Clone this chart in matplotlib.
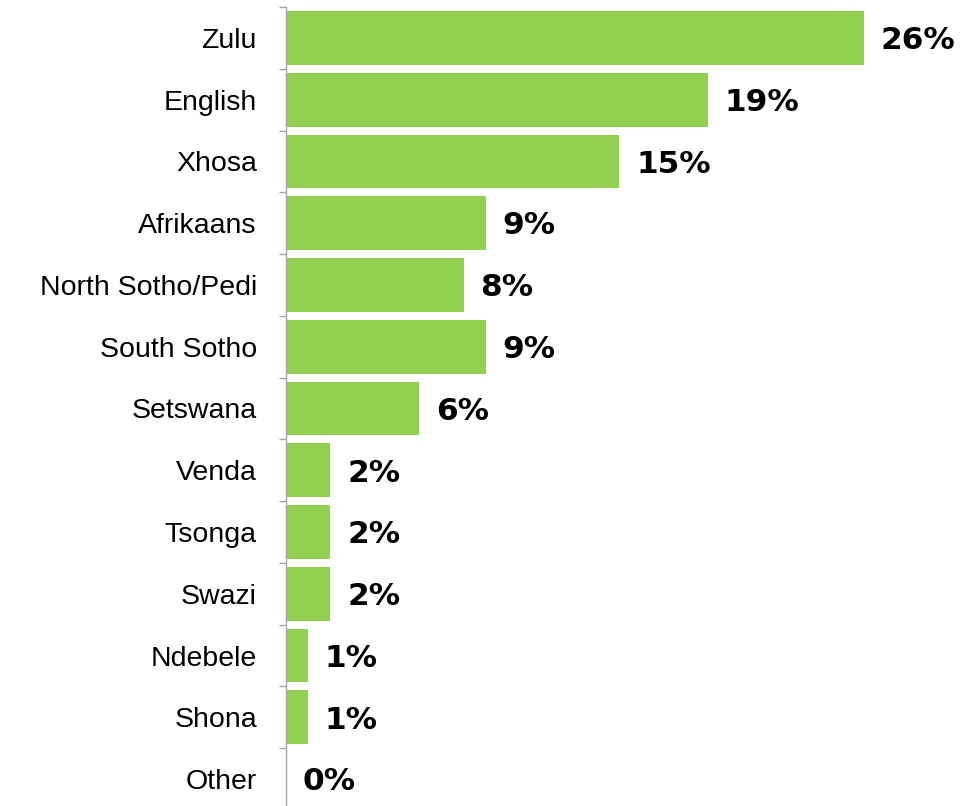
import numpy as np
import matplotlib
matplotlib.use("Agg")
from matplotlib import pyplot as plt

# data
languages = ['Zulu', 'English', 'Xhosa', 'Afrikaans', 'North Sotho/Pedi',
             'South Sotho', 'Setswana', 'Venda', 'Tsonga', 'Swazi',
             'Ndebele', 'Shona', 'Other']
shares = [26, 19, 15, 9, 8, 9, 6, 2, 2, 2, 1, 1, 0]
share_labels = ['26%', '19%', '15%', '9%', '8%', '9%', '6%', '2%', '2%',
                '2%', '1%', '1%', '0%']

BAR_COLOR = '#92D050'
AXIS_COLOR = '#A6A6A6'

fig = plt.figure(figsize=(9.75, 8.06), dpi=100)
ax = fig.add_axes([286 / 975, -4 / 806, 1 - 286 / 975, 803 / 806])

ypos = np.arange(len(languages))
ax.barh(ypos, shares, height=0.87, color=BAR_COLOR, zorder=2)

# value labels just right of each bar
for y, v, lab in zip(ypos, shares, share_labels):
    ax.annotate(lab, xy=(v, y), xytext=(12, -2), textcoords='offset points',
                ha='left', va='center', fontsize=22.5, fontweight='bold',
                family='DejaVu Sans', color='black')

ax.set_xlim(0, 31)
ax.set_ylim(len(languages) - 0.5, -0.5)
ax.set_xticks([])
ax.set_yticks(ypos)
ax.set_yticklabels(languages, fontsize=20.5, family='Liberation Sans')
ax.tick_params(axis='y', which='major', length=0, pad=21)
# short ticks between the categories
ax.set_yticks(np.arange(-0.5, len(languages), 1.0), minor=True)
ax.tick_params(axis='y', which='minor', length=5, width=1, color=AXIS_COLOR,
               direction='out')

for s in ['top', 'right', 'bottom']:
    ax.spines[s].set_visible(False)
ax.spines['left'].set_color(AXIS_COLOR)
ax.spines['left'].set_linewidth(1)
ax.patch.set_alpha(0)

plt.savefig('out.png', dpi=100)
